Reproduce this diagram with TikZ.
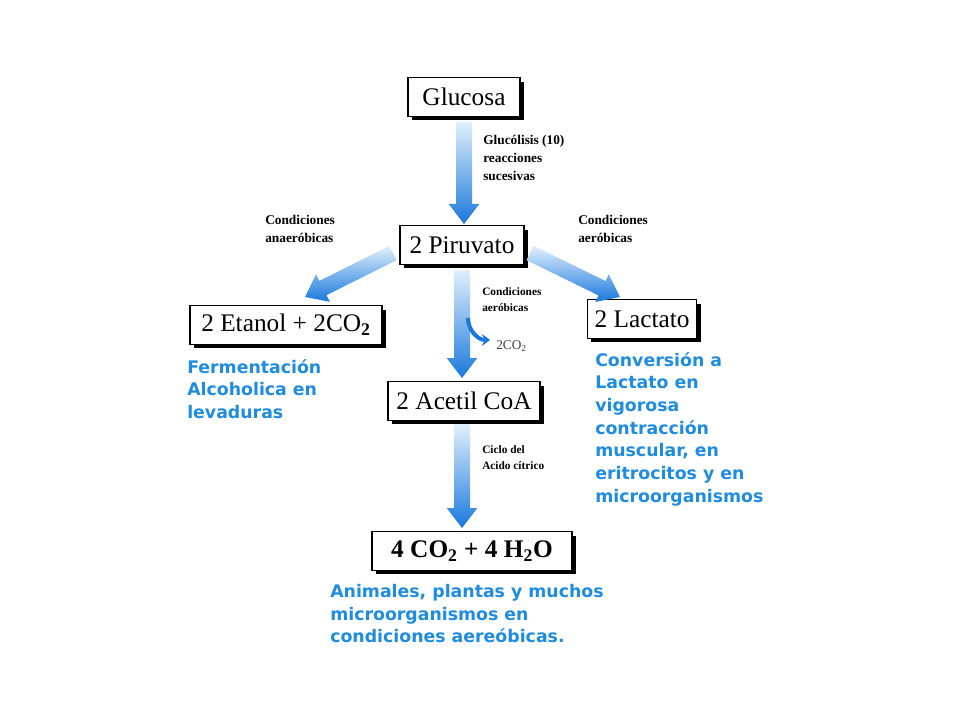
\documentclass[tikz,border=0pt]{standalone}
\usepackage{fontspec}
\setmainfont{Liberation Serif}
\newfontfamily\bluefont{DejaVu Sans}
\usetikzlibrary{calc,shadows,arrows.meta}
\definecolor{tblue}{RGB}{30,140,225}
\definecolor{ablue}{RGB}{25,120,220}
\definecolor{lblue}{RGB}{225,240,252}
\tikzset{
 box/.style={draw=black,fill=white,line width=0.8pt,inner sep=2pt,minimum height=29pt,font=\fontsize{19}{21}\selectfont,
   drop shadow={shadow xshift=3pt,shadow yshift=-3pt,fill=black,opacity=1}},
 small/.style={font=\bfseries\fontsize{10}{13.5}\selectfont,align=left,anchor=north west,inner sep=0pt},
 tiny/.style={font=\bfseries\fontsize{8.5}{12}\selectfont,align=left,anchor=north west,inner sep=0pt},
 bluetxt/.style={font=\bluefont\bfseries\fontsize{13}{17}\selectfont,text=tblue,align=left,anchor=north west,inner sep=0pt},
}
\newcommand\fatarr[2]{%
 \path let \p1=($(#2)-(#1)$), \n1={atan2(\y1,\x1)}, \n2={veclen(\x1,\y1)} in
   \pgfextra{\xdef\fang{\n1}\xdef\flen{\n2}};
 \begin{scope}[shift={(#1)},rotate=\fang]
  \shade[left color=lblue,right color=ablue,shading angle=0]
   (0pt,-6pt)--(\flen-15pt,-6pt)--(\flen-15pt,-11.5pt)--(\flen,0pt)--(\flen-15pt,11.5pt)--(\flen-15pt,6pt)--(0pt,6pt)--cycle;
 \end{scope}}
\begin{document}
\begin{tikzpicture}[x=0.75pt,y=-0.75pt]
\useasboundingbox (0,0) rectangle (960,720);
\node[box,minimum width=84pt] (glu) at (464,97) {Glucosa};
\node[box,minimum width=93pt] (pir) at (462,245) {2 Piruvato};
\node[box,minimum width=144pt] (eta) at (286,325) {2 Etanol + 2CO\textsubscript{\textbf{2}}};
\node[box,minimum width=82pt] (lac) at (642,319) {2 Lactato};
\node[box,minimum width=114pt] (ace) at (464,401) {2 Acetil CoA};
\node[box,minimum width=150pt,font=\bfseries\fontsize{19}{21}\selectfont] (co) at (472,551) {4 CO\textsubscript{2} + 4 H\textsubscript{2}O};

\coordinate (a1s) at (464,122); \coordinate (a1e) at (464,224);
\fatarr{a1s}{a1e}
\coordinate (a2s) at (462,270); \coordinate (a2e) at (462,378);
\fatarr{a2s}{a2e}
\coordinate (a3s) at (462,424); \coordinate (a3e) at (462,528);
\fatarr{a3s}{a3e}
\coordinate (a4s) at (393,253); \coordinate (a4e) at (305,297);
\fatarr{a4s}{a4e}
\coordinate (a5s) at (530,253); \coordinate (a5e) at (620,297);
\fatarr{a5s}{a5e}
\coordinate (c1) at (468,318); \coordinate (c2) at (490,340);
\draw[ablue,line width=3pt,-{Stealth[length=6pt,width=9pt]}] (c1) to[out=-90,in=180,looseness=1] (c2);

\node[small] (t1) at (483,135) {Glucólisis (10)\\reacciones\\sucesivas};
\node[small] (t2) at (265,215) {Condiciones\\anaeróbicas};
\node[small] (t3) at (578,215) {Condiciones\\aeróbicas};
\node[tiny] (t4) at (482,287) {Condiciones\\aeróbicas};
\node[font=\fontsize{10}{11}\selectfont,text=black!75,anchor=west,inner sep=0pt] (t5) at (496,346) {2CO\textsubscript{2}};
\node[tiny] (t6) at (482,445) {Ciclo del\\Acido cítrico};

\node[bluetxt] (b1) at (187,359) {Fermentación\\Alcoholica en\\levaduras};
\node[bluetxt] (b2) at (595,352) {Conversión a\\Lactato en\\vigorosa\\contracción\\muscular, en\\eritrocitos y en\\microorganismos};
\node[bluetxt] (b3) at (330,584) {Animales, plantas y muchos\\microorganismos en\\condiciones aereóbicas.};
\end{tikzpicture}
\end{document}
